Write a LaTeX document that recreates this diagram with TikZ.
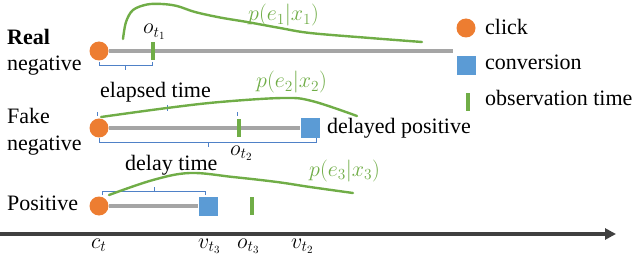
\documentclass[tikz,border=0pt]{standalone}
\usepackage{fix-cm}
\usepackage{fontspec}
\setmainfont{Liberation Serif}
\usetikzlibrary{arrows.meta}
\definecolor{clickorange}{HTML}{ED7D31}
\definecolor{convblue}{HTML}{5B9BD5}
\definecolor{obsgreen}{HTML}{70AD47}
\definecolor{linegray}{HTML}{A5A5A5}
\definecolor{axisgray}{HTML}{404040}
\definecolor{bracketblue}{HTML}{4F81C7}
\tikzset{
  clickdot/.style={circle,fill=clickorange,minimum size=19pt,inner sep=0pt},
  convsq/.style={rectangle,fill=convblue,minimum size=19pt,inner sep=0pt},
  obstick/.style={rectangle,fill=obsgreen,minimum width=3.5pt,minimum height=18pt,inner sep=0pt},
  timeline/.style={draw=linegray,line width=4pt},
  brace/.style={draw=bracketblue,line width=0.9pt},
  density/.style={draw=obsgreen,line width=2.4pt,line cap=round},
  lbl/.style={anchor=base west,inner sep=0pt,font=\fontsize{22}{26}\selectfont},
  mlbl/.style={anchor=base west,inner sep=0pt,font=\fontsize{22}{26}\selectfont},
}
\begin{document}
\begin{tikzpicture}[x=1pt,y=-1pt]
\useasboundingbox (0,0) rectangle (638,262);
% row nodes
\node[clickdot] (c1) at (99,51) {};
\coordinate (e1) at (453,51);
\node[clickdot] (c2) at (99,128) {};
\node[convsq] (s2) at (310,128) {};
\node[clickdot] (c3) at (99,206) {};
\node[convsq] (s3) at (208,206) {};
% timelines
\draw[timeline] (c1) -- (e1);
\draw[timeline] (c2) -- (s2);
\draw[timeline] (c3) -- (s3);
% observation ticks
\node[obstick] (o1) at (153,51) {};
\node[obstick] (o2) at (239,128) {};
\node[obstick] (o3) at (252,206) {};
% brackets
\draw[brace] (99,62) -- (99,65) -- (152,65) -- (152,62);
\draw[brace] (125,65) -- (125,70);
\draw[brace] (99,138) -- (99,142.5) -- (316,142.5) -- (316,138);
\draw[brace] (208,142.5) -- (208,147);
\draw[brace] (102,195) -- (102,191) -- (205,191) -- (205,195);
\draw[brace] (154,191) -- (154,187);
\draw[brace] (97,112.5) -- (97,116.5);
\draw[brace] (167,105) -- (167,111);
\draw[brace] (237,112.5) -- (237,116.5);
% density curves
\draw[density] plot[smooth,tension=0.55] coordinates {(123,39) (126,22) (133,10) (147,4.5) (162,4) (177,6) (195,12) (220,17.5) (247,22) (280,28) (310,33) (370,38) (422,42)};
\draw[density] plot[smooth,tension=0.6] coordinates {(101,117) (167,108) (220,102) (283,98) (312,101) (357,116)};
\draw[density] plot[smooth,tension=0.6] coordinates {(109,195) (153,180) (190,173) (233,177) (277,182) (310,187) (353,193)};
% axis
\coordinate (a0) at (0,234);
\coordinate (a1) at (616,234);
\draw[draw=axisgray,line width=4pt,-{Triangle[length=11pt,width=11pt]}] (a0) -- (a1);
% row labels
\node[lbl,font=\fontsize{22}{26}\selectfont\bfseries] (t1) at (7,45) {Real};
\node[lbl] (t2) at (7,71) {negative};
\node[lbl] (t3) at (7,124) {Fake};
\node[lbl] (t4) at (7,150) {negative};
\node[lbl] (t5) at (7,210) {Positive};
\node[lbl] (t6) at (100,97.5) {elapsed time};
\node[lbl] (t7) at (125,170) {delay time};
\node[lbl] (t8) at (327,134) {delayed positive};
% legend
\node[clickdot] (lc) at (466,28) {};
\node[lbl] (lct) at (485,35) {click};
\node[convsq] (ls) at (466,66) {};
\node[lbl] (lst) at (485,70) {conversion};
\node[obstick] (lo) at (468,102) {};
\node[lbl] (lot) at (485,106) {observation time};
% math labels
\node[mlbl,text=obsgreen] (p1) at (248,21) {$p(e_1|x_1)$};
\node[mlbl,text=obsgreen] (p2) at (256,88) {$p(e_2|x_2)$};
\node[mlbl,text=obsgreen] (p3) at (309,176) {$p(e_3|x_3)$};
\node[mlbl] (ot1) at (143,34) {$o_{t_1}$};
\node[mlbl] (ot2) at (230,155) {$o_{t_2}$};
\node[mlbl] (ct) at (91,248) {$c_t$};
\node[mlbl] (vt3) at (198,248) {$v_{t_3}$};
\node[mlbl] (ot3) at (237,248) {$o_{t_3}$};
\node[mlbl] (vt2) at (291,248) {$v_{t_2}$};
\end{tikzpicture}
\end{document}
